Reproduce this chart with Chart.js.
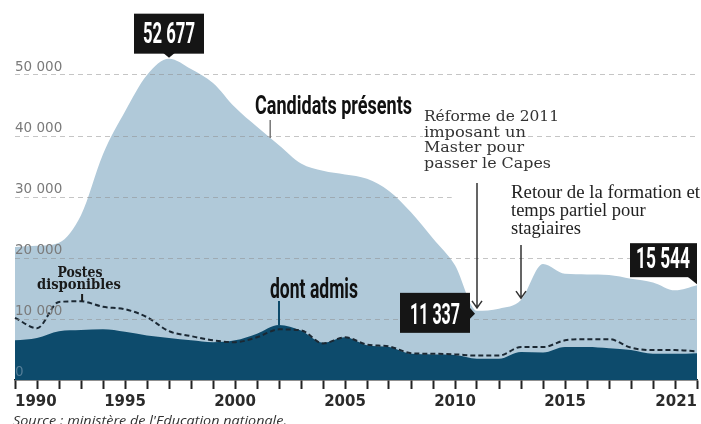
<!DOCTYPE html>
<html>
<head>
<meta charset="utf-8">
<script src="https://cdn.jsdelivr.net/npm/chart.js@4"></script>
<style>
  html, body { margin: 0; padding: 0; background: #fff; }
  #wrap { width: 701px; height: 424px; position: relative; }
</style>
</head>
<body>
<div id="wrap"><canvas id="c"></canvas></div>
<script>
const years = [1990,1991,1992,1993,1994,1995,1996,1997,1998,1999,2000,2001,2002,2003,2004,2005,2006,2007,2008,2009,2010,2011,2012,2013,2014,2015,2016,2017,2018,2019,2020,2021];
const candidats = [21800,22000,22500,27000,37000,44000,50000,52677,51000,48700,44700,41500,38500,35500,34300,33700,33000,31000,27500,23200,18800,11337,11700,13100,19000,17400,17300,17200,16600,16000,14700,15544];
const admis = [6500,6900,8000,8200,8300,7900,7300,6900,6500,6200,6500,7600,9000,8100,6100,7000,5700,5400,4300,4200,4100,3500,3500,4600,4500,5400,5400,5200,4900,4300,4300,4400];
const postes = [10200,8500,12800,12900,12000,11600,10300,8000,7200,6500,6200,7000,8300,8150,6000,7000,5800,5500,4400,4300,4200,4000,4000,5400,5400,6500,6700,6700,5300,4900,4900,4700];
const shownYears = [1990,1995,2000,2005,2010,2015,2021];
const yTicks = [0,10000,20000,30000,40000,50000];

function fmt(v){ return String(v).replace(/\B(?=(\d{3})+(?!\d))/g,' '); }

function fitText(ctx, text, x, y, font, w, align, color){
  ctx.save();
  ctx.font = font;
  const m = ctx.measureText(text).width;
  const s = w / m;
  ctx.translate(x, y);
  ctx.scale(s, 1);
  ctx.textAlign = align || 'left';
  ctx.textBaseline = 'alphabetic';
  ctx.fillStyle = color || '#111';
  ctx.fillText(text, 0, 0);
  ctx.restore();
}

const annot = {
  id: 'annot',
  afterDraw(chart){
    const ctx = chart.ctx;
    const xs = chart.scales.x, ys = chart.scales.y;
    const X = yr => xs.getPixelForValue(years.indexOf(yr));
    const Xf = yr => { const a = xs.getPixelForValue(0), b = xs.getPixelForValue(1); return a + (yr - 1990) * (b - a); };
    const Y = v => ys.getPixelForValue(v);
    const condensed = 'bold 29px Roboto, "DejaVu Sans", sans-serif';

    // white background behind "Retour" block
    ctx.save();
    ctx.fillStyle = '#fff';
    ctx.fillRect(Xf(2009.85), 184, 701 - Xf(2009.85), 56);
    ctx.restore();

    // Réforme text
    const refFont = '15px "DejaVu Serif", "Liberation Serif", serif';
    const ref = ['Réforme de 2011','imposant un','Master pour','passer le Capes'];
    const refW = [135, 102, 100, 127];
    const refBase = [121, 136.5, 152, 167.5];
    ctx.save();
    ctx.fillStyle = '#fff';
    ref.forEach((t,i)=>{ ctx.fillRect(423, refBase[i]-11, refW[i]+3, 15); });
    ctx.restore();
    ref.forEach((t,i)=>{ fitText(ctx, t, 424, refBase[i], refFont, refW[i], 'left', '#333'); });

    // Retour text
    const retFont = '18.5px "Liberation Serif", serif';
    fitText(ctx, 'Retour de la formation et', 511, 198, retFont, 189, 'left', '#222');
    ctx.save();
    ctx.fillStyle = '#222';
    ctx.font = retFont;
    ctx.fillText('temps partiel pour', 511, 216);
    ctx.fillText('stagiaires', 511, 234);
    ctx.restore();

    // arrows
    function arrow(x, y1, y2){
      ctx.save();
      ctx.strokeStyle = '#333';
      ctx.lineWidth = 1.5;
      ctx.beginPath();
      ctx.moveTo(x, y1); ctx.lineTo(x, y2);
      ctx.moveTo(x-5, y2-7); ctx.lineTo(x, y2); ctx.lineTo(x+5, y2-7);
      ctx.stroke();
      ctx.restore();
    }
    arrow(X(2011), 183, Y(11337) - 3);
    arrow(X(2013), 245, Y(13100) - 2);

    // Candidats présents
    fitText(ctx, 'Candidats présents', 255, 114, 'bold 26px Roboto, sans-serif', 157, 'left', '#111');
    ctx.save();
    ctx.strokeStyle = '#777'; ctx.lineWidth = 1.5;
    ctx.beginPath(); ctx.moveTo(Xf(2001.6), 120); ctx.lineTo(Xf(2001.6), 138); ctx.stroke();
    ctx.restore();

    // dont admis
    fitText(ctx, 'dont admis', 270, 298, 'bold 27px Roboto, sans-serif', 88, 'left', '#111');
    ctx.save();
    ctx.strokeStyle = '#0d4a6a'; ctx.lineWidth = 2;
    ctx.beginPath(); ctx.moveTo(X(2002), 301); ctx.lineTo(X(2002), Y(9000)); ctx.stroke();
    ctx.restore();

    // Postes disponibles
    fitText(ctx, 'Postes', 80, 277, 'bold 14px "DejaVu Serif", serif', 45, 'center', '#1a1a1a');
    fitText(ctx, 'disponibles', 79, 289, 'bold 14px "DejaVu Serif", serif', 84, 'center', '#1a1a1a');
    ctx.save();
    ctx.strokeStyle = '#1a1a1a'; ctx.lineWidth = 2;
    ctx.beginPath(); ctx.moveTo(Xf(1993.05), 294); ctx.lineTo(Xf(1993.05), Y(12900)); ctx.stroke();
    ctx.restore();

    // value boxes
    ctx.save();
    ctx.fillStyle = '#151515';
    let px = X(1997), py = Y(52677);
    ctx.fillRect(px-35, py-45, 70, 40);
    ctx.beginPath(); ctx.moveTo(px-6, py-6); ctx.lineTo(px+6, py-6); ctx.lineTo(px, py-1); ctx.closePath(); ctx.fill();
    let qx = X(2011), qy = Y(11337);
    ctx.fillRect(qx-77, qy-18, 70, 40);
    ctx.beginPath(); ctx.moveTo(qx-8, qy-4); ctx.lineTo(qx-2, qy+3); ctx.lineTo(qx-8, qy+9); ctx.closePath(); ctx.fill();
    let rx = X(2021), ry = Y(15544);
    ctx.fillRect(rx-67, ry-42, 67, 34);
    ctx.beginPath(); ctx.moveTo(rx-10, ry-9); ctx.lineTo(rx, ry-9); ctx.lineTo(rx, ry-1); ctx.closePath(); ctx.fill();
    ctx.restore();
    fitText(ctx, fmt(52677), px, py-15.5, condensed, 52, 'center', '#fff');
    fitText(ctx, fmt(11337), qx-42, qy+13, condensed, 50, 'center', '#fff');
    fitText(ctx, fmt(15544), rx-34, ry-17, condensed, 54, 'center', '#fff');

    // source
    fitText(ctx, "Source : ministère de l'Education nationale.", 13, 425, 'italic 13px "Open Sans", sans-serif', 274, 'left', '#333');
  }
};

new Chart(document.getElementById('c'), {
  type: 'line',
  data: {
    labels: years,
    datasets: [
      { label: 'Postes disponibles', data: postes, order: 0, fill: false, borderColor: '#1b2833', borderWidth: 2, borderDash: [5,3], pointRadius: 0, cubicInterpolationMode: 'monotone' },
      { label: 'dont admis', data: admis, order: 1, fill: 'origin', backgroundColor: '#0d4b6c', borderWidth: 0, borderColor: '#0d4b6c', pointRadius: 0, cubicInterpolationMode: 'monotone' },
      { label: 'Candidats présents', data: candidats, order: 2, fill: 'origin', backgroundColor: '#b0c9d9', borderWidth: 0, borderColor: '#b0c9d9', pointRadius: 0, cubicInterpolationMode: 'monotone' }
    ]
  },
  options: {
    responsive: true,
    maintainAspectRatio: false,
    animation: false,
    layout: { padding: { left: 15, right: 4, top: 14, bottom: 9 } },
    plugins: { legend: { display: false }, tooltip: { enabled: false } },
    scales: {
      x: {
        type: 'category',
        offset: false,
        grid: { display: true, drawOnChartArea: false, drawTicks: true, tickLength: 9, tickColor: '#222', tickWidth: 2 },
        border: { display: true, color: '#222', width: 1.5 },
        ticks: {
          autoSkip: false, maxRotation: 0, minRotation: 0, align: 'inner', padding: 4,
          font: { family: '"DejaVu Sans", sans-serif', weight: 'bold', size: 15 },
          color: '#2b2b2b',
          callback: (v, i) => shownYears.includes(years[i]) ? String(years[i]) : ''
        }
      },
      y: {
        min: 0, max: 60000,
        afterBuildTicks: s => { s.ticks = yTicks.concat([60000]).map(v => ({ value: v })); },
        grid: {
          z: 1, drawTicks: false, lineWidth: 1,
          color: c => (c.tick && c.tick.value > 0 && c.tick.value < 60000) ? 'rgba(140,140,140,0.5)' : 'rgba(0,0,0,0)'
        },
        border: { display: false, dash: [5,4] },
        ticks: {
          z: 2, mirror: true, labelOffset: -8, padding: 0,
          font: { family: '"DejaVu Sans", sans-serif', size: 13.5 },
          color: c => (c.tick && c.tick.value === 0) ? 'rgba(140,165,185,0.55)' : '#7a7a7a',
          callback: v => yTicks.includes(v) ? fmt(v) : ''
        }
      }
    }
  },
  plugins: [annot]
});
</script>
</body>
</html>
